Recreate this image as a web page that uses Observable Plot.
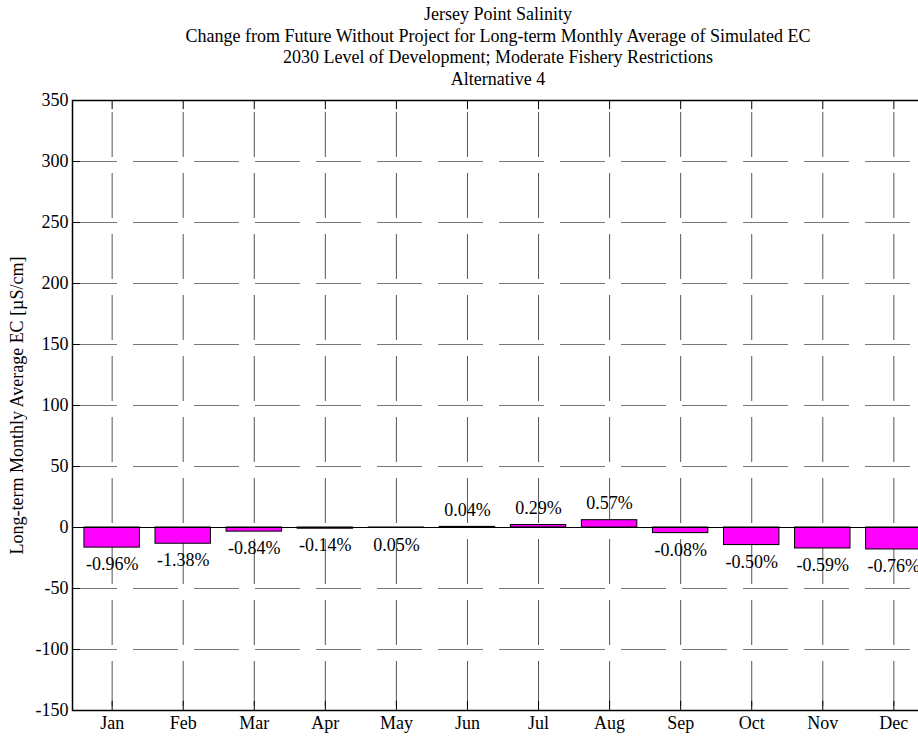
<!DOCTYPE html>
<html>
<head>
<meta charset="utf-8">
<script src="https://cdn.jsdelivr.net/npm/d3@7"></script>
<script src="https://cdn.jsdelivr.net/npm/@observablehq/plot@0.6"></script>
<style>
  html, body { margin: 0; padding: 0; background: white; overflow: hidden; width: 918px; height: 736px; }
  #titles { box-sizing: border-box; width: 918px; height: 88px; overflow: visible; padding-top: 4px; padding-left: 78px;
    text-align: center; font-family: "Liberation Serif", "Times New Roman", serif; font-size: 18px; line-height: 21.7px; color: black; }
  #chart { position: relative; }
</style>
</head>
<body>
<div id="titles">
  <div>Jersey Point Salinity</div>
  <div>Change from Future Without Project for Long-term Monthly Average of Simulated EC</div>
  <div>2030 Level of Development; Moderate Fishery Restrictions</div>
  <div>Alternative 4</div>
</div>
<div id="chart"></div>
<script>
const months = ["Jan","Feb","Mar","Apr","May","Jun","Jul","Aug","Sep","Oct","Nov","Dec"];
const values = [-16.5, -13.3, -3.4, -1.0, -0.3, 0.5, 2.0, 6.0, -4.6, -14.4, -17.2, -18.0];
const pctLabels = ["-0.96%","-1.38%","-0.84%","-0.14%","0.05%","0.04%","0.29%","0.57%","-0.08%","-0.50%","-0.59%","-0.76%"];
const yTicks = [-150, -100, -50, 0, 50, 100, 150, 200, 250, 300, 350];
const yLabel = "Long-term Monthly Average EC [µS/cm]";

const data = months.map((m, k) => ({i: k + 1, m, v: values[k], p: pctLabels[k]}));
const xDomain = [0.442, 12.558];
const yDomain = [-150, 350];
const inner = yTicks.filter(t => t !== yDomain[0] && t !== yDomain[1]);

const chart = Plot.plot({
  width: 940,
  height: 648,
  marginLeft: 72,
  marginRight: 7,
  marginTop: 12,
  marginBottom: 26,
  style: {fontFamily: "'Liberation Serif', 'Times New Roman', serif", fontSize: "18px", maxWidth: "none", background: "white", color: "black", overflow: "hidden"},
  x: {type: "linear", domain: xDomain},
  y: {domain: yDomain},
  marks: [
    Plot.ruleY(inner, {x1: xDomain[0], x2: xDomain[1], stroke: "#777", strokeWidth: 1, strokeDasharray: "45,16"}),
    Plot.ruleX(data, {x: "i", y1: yDomain[1], y2: yDomain[0], stroke: "#555", strokeWidth: 1, strokeDasharray: "45,16", strokeDashoffset: 49}),
    Plot.rectY(data, {x1: d => d.i - 0.39, x2: d => d.i + 0.39, y1: 0, y2: "v", fill: "#ff00ff", stroke: "black", strokeWidth: 1}),
    Plot.ruleY([0], {x1: xDomain[0], x2: xDomain[1], stroke: "black", strokeWidth: 1}),
    Plot.text(data.filter(d => d.v < 0), {x: "i", y: "v", text: "p", dy: 17, fill: "black"}),
    Plot.text(data.filter(d => d.v >= 0), {x: "i", y: "v", text: "p", dy: -17, fill: "black"}),
    Plot.ruleY(yTicks, {x1: xDomain[0], x2: xDomain[0] + 0.11, stroke: "black"}),
    Plot.ruleX(data, {x: "i", y1: yDomain[0], y2: yDomain[0] + 7.5, stroke: "black"}),
    Plot.ruleX(data, {x: "i", y1: yDomain[1] - 7.5, y2: yDomain[1], stroke: "black"}),
    Plot.axisY({ticks: yTicks, tickFormat: d => String(d), tickSize: 0, tickPadding: 4,
      label: yLabel, labelAnchor: "center", labelOffset: 62, labelArrow: "none"}),
    Plot.axisX({ticks: data.map(d => d.i), tickFormat: i => months[i - 1], tickSize: 0, tickPadding: 6, label: null}),
    Plot.frame({stroke: "black", strokeWidth: 1.5})
  ]
});
document.getElementById("chart").appendChild(chart);
</script>
</body>
</html>
